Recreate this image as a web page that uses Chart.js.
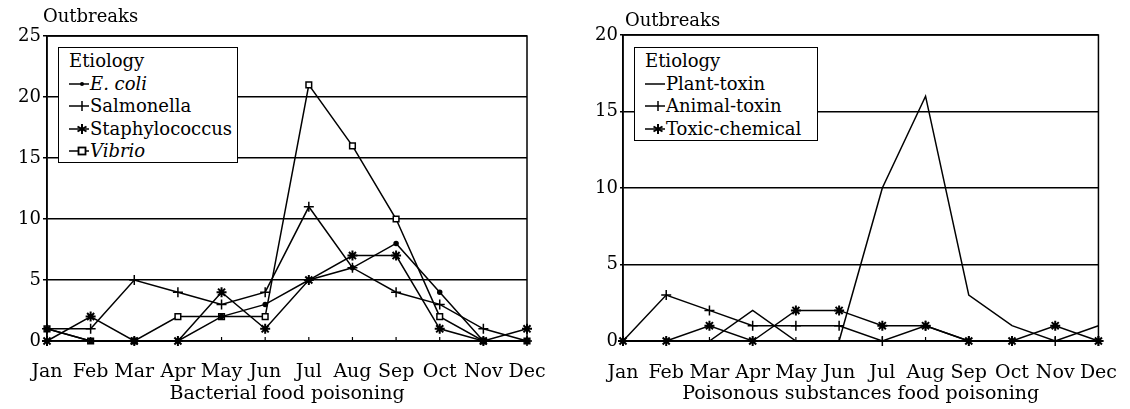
<!DOCTYPE html>
<html><head><meta charset="utf-8">
<script src="https://cdn.jsdelivr.net/npm/chart.js@4"></script>
<style>
html,body{margin:0;padding:0;background:#fff;}
#wrap{position:relative;width:1130px;height:409px;overflow:hidden;font-family:"DejaVu Serif",serif;color:#000;}
canvas{position:absolute;top:0;}
.ylab{position:absolute;font-size:18px;line-height:20px;white-space:nowrap;}
.legend{position:absolute;background:#fff;border:1.5px solid #000;box-sizing:border-box;font-size:18px;padding:2px 0 0 10px;}
.legend div{height:22.6px;line-height:22.6px;white-space:nowrap;}
.legend svg{vertical-align:middle;margin-right:1px;position:relative;top:-1px;}
</style></head>
<body>
<div id="wrap">
<canvas id="c1" width="560" height="409" style="left:0"></canvas>
<canvas id="c2" width="570" height="409" style="left:560px"></canvas>
<div class="ylab" style="left:43px;top:6px;">Outbreaks</div>
<div class="ylab" style="left:625px;top:10px;">Outbreaks</div>
<div class="legend" id="leg1" style="left:58px;top:47px;width:180px;height:116px;"></div>
<div class="legend" id="leg2" style="left:634px;top:47px;width:184px;height:94px;"></div>
</div>
<script>
// ---- data ----
const months = ['Jan','Feb','Mar','Apr','May','Jun','Jul','Aug','Sep','Oct','Nov','Dec'];
const bactNames = ['E. coli','Salmonella','Staphylococcus','Vibrio'];
const ecoli          = [1,0,0,0,2,3,5,6,8,4,0,0];
const salmonella     = [1,1,5,4,3,4,11,6,4,3,1,0];
const staphylococcus = [0,2,0,0,4,1,5,7,7,1,0,1];
const vibrio         = [1,0,0,2,2,2,21,16,10,2,0,0];
const bactTicks = [0,5,10,15,20,25];

const poisonNames = ['Plant-toxin','Animal-toxin','Toxic-chemical'];
const plantToxin    = [0,0,0,2,0,0,10,16,3,1,0,1];
const animalToxin   = [0,3,2,1,1,1,0,1,0,0,0,0];
const toxicChemical = [0,0,1,0,2,2,1,1,0,0,1,0];
const poisonTicks = [0,5,10,15,20];

const FONT = 'DejaVu Serif';

const frame = {
  id:'frame',
  beforeDatasetsDraw(chart){
    const {ctx, chartArea:a, scales:{x}} = chart;
    ctx.save();
    ctx.strokeStyle='#000'; ctx.lineWidth=1.5;
    ctx.strokeRect(a.left, a.top, a.right-a.left, a.bottom-a.top);
    ctx.lineWidth=1.2;
    for(let i=0;i<chart.data.labels.length;i++){
      const px = x.getPixelForValue(i);
      ctx.beginPath(); ctx.moveTo(px,a.bottom); ctx.lineTo(px,a.bottom-4); ctx.stroke();
    }
    ctx.restore();
  }
};

function ds(label, data, style, radius, fill){
  return {label, data, borderColor:'#000', borderWidth:1.5, tension:0, clip:false,
    pointStyle:style, pointRadius:radius, pointBorderWidth: style==='star'?2:1.5,
    pointBackgroundColor: fill, pointBorderColor:'#000'};
}

function makeChart(id, labels, datasets, ticks, max, yWidth, pad, xH, tickPad, title, tl){
  return new Chart(document.getElementById(id), {
    type:'line',
    data:{labels, datasets},
    options:{
      responsive:false, animation:false,
      layout:{padding:pad},
      plugins:{legend:{display:false}, tooltip:{enabled:false}},
      scales:{
        x:{offset:false, grid:{display:false}, border:{display:true,color:'#000',width:1.5},
           ticks:{padding:tickPad,color:'#000',font:{family:FONT,size:19},maxRotation:0,autoSkip:false},
           title:{display:true,text:title,color:'#000',font:{family:FONT,size:19},padding:0},
           afterFit(s){s.height=xH;}},
        y:{min:0,max:max,
           afterBuildTicks(s){s.ticks = ticks.map(v=>({value:v}));},
           ticks:{padding:2,color:'#000',font:{family:FONT,size:18}},
           grid:{color:'#000',lineWidth:1.5,tickLength:tl},
           border:{color:'#000',width:1.5},
           afterFit(s){s.width=yWidth;}}
      }
    },
    plugins:[frame]
  });
}

makeChart('c1', months, [
  ds(bactNames[0], ecoli, 'circle', 2, '#000'),
  ds(bactNames[1], salmonella, 'cross', 5, '#000'),
  ds(bactNames[2], staphylococcus, 'star', 5, '#000'),
  ds(bactNames[3], vibrio, 'rect', 4, '#fff')
], bactTicks, 25, 47, {top:36,right:33,bottom:4,left:0}, 64, 12, 'Bacterial food poisoning', 4);

makeChart('c2', months, [
  ds(poisonNames[0], plantToxin, 'circle', 0, '#000'),
  ds(poisonNames[1], animalToxin, 'cross', 5, '#000'),
  ds(poisonNames[2], toxicChemical, 'star', 5, '#000')
], poisonTicks, 20, 63, {top:35,right:25,bottom:4,left:0}, 64, 13, 'Poisonous substances food poisoning', 3);

// ---- legends (HTML, real text) ----
function icon(kind){
  let m='';
  if(kind==='circle') m='<circle cx="13" cy="8" r="2" fill="#000"/>';
  if(kind==='cross') m='<line x1="13" y1="3" x2="13" y2="13" stroke="#000" stroke-width="1.5"/>';
  if(kind==='star') m='<line x1="13" y1="3" x2="13" y2="13" stroke="#000" stroke-width="2"/><line x1="8.5" y1="5.5" x2="17.5" y2="10.5" stroke="#000" stroke-width="2"/><line x1="8.5" y1="10.5" x2="17.5" y2="5.5" stroke="#000" stroke-width="2"/>';
  if(kind==='rect') m='<rect x="9.5" y="4.5" width="7" height="7" fill="#fff" stroke="#000" stroke-width="1.8"/>';
  return '<svg width="20" height="16"><line x1="0" y1="8" x2="20" y2="8" stroke="#000" stroke-width="1.5"/>'+m+'</svg>';
}
function legend(id, names, kinds, italics){
  let h='<div>Etiology</div>';
  names.forEach((n,i)=>{
    const t = italics[i] ? '<i>'+n+'</i>' : n;
    h += '<div>'+icon(kinds[i])+t+'</div>';
  });
  document.getElementById(id).innerHTML=h;
}
legend('leg1', bactNames, ['circle','cross','star','rect'], [true,false,false,true]);
legend('leg2', poisonNames, ['none','cross','star'], [false,false,false]);
</script>
</body></html>
